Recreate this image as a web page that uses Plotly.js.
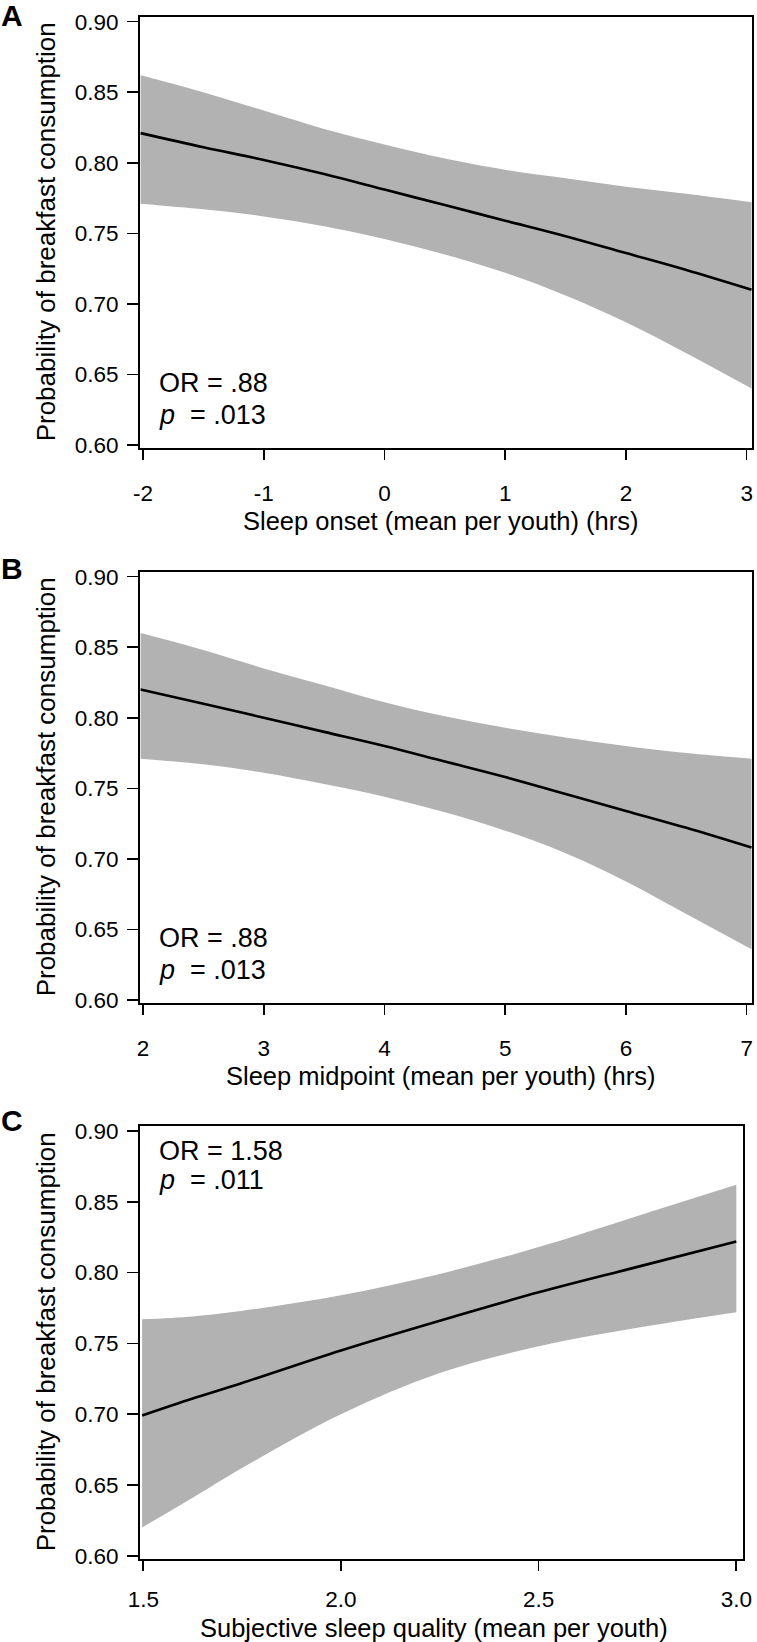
<!DOCTYPE html>
<html>
<head>
<meta charset="utf-8">
<script src="https://cdn.plot.ly/plotly-3.0.1.min.js"></script>
<style>html,body{margin:0;padding:0;background:#fff;}#chart{width:757px;height:1642px;}</style>
</head>
<body>
<div id="chart"></div>
<script>
// ---------- data ----------
// Panel A: sleep onset (hrs)
const xA   = [-2.02, -1.5, -1, -0.5, 0, 0.5, 1, 1.5, 2, 2.5, 3.04];
const fitA = [0.821, 0.811, 0.802, 0.792, 0.781, 0.770, 0.759, 0.748, 0.736, 0.724, 0.710];
const upA  = [0.862, 0.850, 0.837, 0.824, 0.813, 0.803, 0.795, 0.789, 0.783, 0.778, 0.772];
const loA  = [0.771, 0.767, 0.762, 0.755, 0.746, 0.735, 0.722, 0.706, 0.687, 0.665, 0.640];
// Panel B: sleep midpoint (hrs)
const xB   = [1.98, 2.5, 3, 3.5, 4, 4.5, 5, 5.5, 6, 6.5, 7.04];
const fitB = [0.820, 0.810, 0.800, 0.790, 0.780, 0.769, 0.758, 0.746, 0.734, 0.722, 0.708];
const upB  = [0.860, 0.848, 0.835, 0.823, 0.811, 0.801, 0.793, 0.786, 0.780, 0.775, 0.771];
const loB  = [0.771, 0.767, 0.761, 0.753, 0.744, 0.733, 0.720, 0.704, 0.684, 0.661, 0.636];
// Panel C: subjective sleep quality
const xC   = [1.497, 1.625, 1.75, 2.0, 2.25, 2.5, 2.75, 3.0];
const fitC = [0.699, 0.711, 0.722, 0.745, 0.766, 0.786, 0.804, 0.822];
const upC  = [0.767, 0.769, 0.773, 0.784, 0.799, 0.818, 0.840, 0.862];
const loC  = [0.620, 0.641, 0.662, 0.700, 0.729, 0.748, 0.761, 0.772];

const yTickVals = [0.60, 0.65, 0.70, 0.75, 0.80, 0.85, 0.90];
const yTickText = ['0.60', '0.65', '0.70', '0.75', '0.80', '0.85', '0.90'];
const xTickValsA = [-2, -1, 0, 1, 2, 3];
const xTickTextA = ['-2', '-1', '0', '1', '2', '3'];
const xTickValsB = [2, 3, 4, 5, 6, 7];
const xTickTextB = ['2', '3', '4', '5', '6', '7'];
const xTickValsC = [1.5, 2.0, 2.5, 3.0];
const xTickTextC = ['1.5', '2.0', '2.5', '3.0'];

const panelLabels = ['A', 'B', 'C'];
const xTitles = ['Sleep onset (mean per youth) (hrs)',
                 'Sleep midpoint (mean per youth) (hrs)',
                 'Subjective sleep quality (mean per youth)'];
const yTitle = 'Probability of breakfast consumption';
const orTexts = ['OR = .88', 'OR = .88', 'OR = 1.58'];
const pTexts = ['.013', '.013', '.011'];

// ---------- layout helpers ----------
const W = 757, H = 1642;
const FONT = 'Liberation Sans, Arial, Helvetica, sans-serif';
const BAND = 'rgb(178,178,178)';
function px(x) { return x / W; }
function py(y) { return 1 - y / H; }

const panels = [
  {x: xA, fit: fitA, up: upA, lo: loA, tv: xTickValsA, tt: xTickTextA, xr: [-2.025, 3.044], so: 14,
   left: 140, right: 752, top: 16.7, bottom: 448, lab: [12, 15], orY: 383, pY: 415, titleX: 440, titleY: 521},
  {x: xB, fit: fitB, up: upB, lo: loB, tv: xTickValsB, tt: xTickTextB, xr: [1.975, 7.044], so: 14,
   left: 140, right: 752, top: 571.7, bottom: 1003, lab: [12, 569], orY: 938, pY: 970, titleX: 440, titleY: 1076},
  {x: xC, fit: fitC, up: upC, lo: loC, tv: xTickValsC, tt: xTickTextC, xr: [1.4917, 3.0162], so: 9,
   left: 140, right: 742.7, top: 1126, bottom: 1558.7, lab: [12, 1120], orY: 1151, pY: 1180, titleX: 434, titleY: 1628}
];

const traces = [];
const layout = {
  width: W, height: H,
  margin: {l: 0, r: 0, t: 0, b: 0},
  paper_bgcolor: '#fff', plot_bgcolor: '#fff',
  showlegend: false,
  font: {family: FONT, color: '#000'},
  annotations: []
};

panels.forEach((p, i) => {
  const n = i === 0 ? '' : String(i + 1);
  const xa = 'x' + n, ya = 'y' + n;
  traces.push({x: p.x, y: p.up, xaxis: xa, yaxis: ya, mode: 'lines',
               line: {width: 0, shape: 'spline', color: BAND}, hoverinfo: 'skip'});
  traces.push({x: p.x, y: p.lo, xaxis: xa, yaxis: ya, mode: 'lines', fill: 'tonexty',
               fillcolor: BAND, line: {width: 0, shape: 'spline', color: BAND}, hoverinfo: 'skip'});
  traces.push({x: p.x, y: p.fit, xaxis: xa, yaxis: ya, mode: 'lines',
               line: {width: 2.6, shape: 'spline', color: '#000'}});

  const common = {showline: true, mirror: true, linecolor: '#000', linewidth: 2,
                  ticks: 'outside', ticklen: 10, tickwidth: 1.6, tickcolor: '#000',
                  showgrid: false, zeroline: false, fixedrange: true,
                  tickfont: {family: FONT, size: 22.5, color: '#000'}};
  layout['xaxis' + n] = Object.assign({}, common, {
    domain: [px(p.left), px(p.right)], anchor: ya, range: p.xr,
    tickmode: 'array', tickvals: p.tv, ticktext: p.tt, ticklabelstandoff: p.so});
  layout['yaxis' + n] = Object.assign({}, common, {
    domain: [py(p.bottom), py(p.top)], anchor: xa, range: [0.5979, 0.9035],
    tickmode: 'array', tickvals: yTickVals, ticktext: yTickText, ticklen: 11, ticklabelstandoff: 4});

  layout.annotations.push(
    {xref: 'paper', yref: 'paper', x: px(p.lab[0]), y: py(p.lab[1]), xanchor: 'center', yanchor: 'middle',
     text: '<b>' + panelLabels[i] + '</b>', showarrow: false, font: {family: FONT, size: 30, color: '#000'}},
    {xref: 'paper', yref: 'paper', x: px(157), y: py(p.orY), xanchor: 'left', yanchor: 'middle',
     text: orTexts[i], showarrow: false, font: {family: FONT, size: 27, color: '#000'}},
    {xref: 'paper', yref: 'paper', x: px(157), y: py(p.pY), xanchor: 'left', yanchor: 'middle',
     text: '<i>p</i>\u00a0\u00a0= ' + pTexts[i], showarrow: false, font: {family: FONT, size: 27, color: '#000'}},
    {xref: 'paper', yref: 'paper', x: px(p.titleX), y: py(p.titleY), xanchor: 'center', yanchor: 'middle',
     text: xTitles[i], showarrow: false, font: {family: FONT, size: 25.5, color: '#000'}},
    {xref: 'paper', yref: 'paper', x: px(46), y: py((p.top + p.bottom) / 2), xanchor: 'center', yanchor: 'middle',
     text: yTitle, textangle: -90, showarrow: false, font: {family: FONT, size: 26, color: '#000'}}
  );
});

Plotly.newPlot('chart', traces, layout, {displayModeBar: false, staticPlot: true});
</script>
</body>
</html>
